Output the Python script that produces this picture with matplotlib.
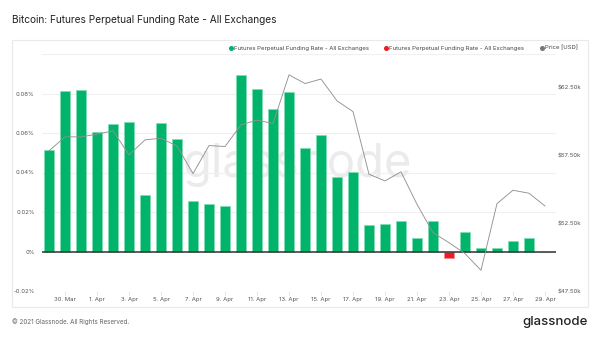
import matplotlib
matplotlib.use("Agg")
import matplotlib.pyplot as plt
import matplotlib.dates as mdates
from matplotlib.lines import Line2D
import numpy as np
import pandas as pd

plt.rcParams['font.family'] = ['Inter', 'DejaVu Sans']

# ---------------- data ----------------
dates = pd.date_range("2021-03-29", "2021-04-29", freq="D")
funding = [0.0514, 0.0813, 0.0818, 0.0605, 0.0644, 0.0654, 0.0285, 0.0649, 0.0570,
           0.0254, 0.0239, 0.0230, 0.0892, 0.0824, 0.0720, 0.0808, 0.0524, 0.0588,
           0.0379, 0.0403, 0.0134, 0.0139, 0.0153, 0.0067, 0.0154, -0.0035, 0.0097,
           0.0016, 0.0016, 0.0052, 0.0067, np.nan]
price = [57.85, 58.88, 58.88, 59.08, 59.33, 57.55, 58.66, 58.78, 58.20, 56.17,
         58.24, 58.17, 59.77, 60.12, 59.87, 63.46, 62.82, 63.15, 61.54, 60.75,
         56.12, 55.63, 56.30, 53.90, 51.81, 51.07, 50.26, 49.03, 53.95, 54.94,
         54.72, 53.78]
left_ticks = [-0.02, 0.0, 0.02, 0.04, 0.06, 0.08]
left_tick_labels = ["-0.02%", "0%", "0.02%", "0.04%", "0.06%", "0.08%"]
right_ticks = [47.5, 52.5, 57.5, 62.5]
right_tick_labels = ["$47.50k", "$52.50k", "$57.50k", "$62.50k"]
x_tick_dates = pd.date_range("2021-03-30", "2021-04-29", freq="2D")
x_tick_labels = ["30. Mar", "1. Apr", "3. Apr", "5. Apr", "7. Apr", "9. Apr", "11. Apr",
                 "13. Apr", "15. Apr", "17. Apr", "19. Apr", "21. Apr", "23. Apr",
                 "25. Apr", "27. Apr", "29. Apr"]
series_name = "Futures Perpetual Funding Rate - All Exchanges"
price_name = "Price [USD]"
title = "Bitcoin: Futures Perpetual Funding Rate - All Exchanges"

# ---------------- style ----------------
GREEN = "#00b46c"
GREEN_EDGE = "#7fdcb2"
RED = "#ee1b24"
GREY_LINE = "#929292"
TXT = "#555555"
GRID = "#f0f0f0"

fig = plt.figure(figsize=(6, 3.37), dpi=100)
fig.patch.set_facecolor("white")

# outer frame
frame = plt.Rectangle((12 / 600, 1 - 307 / 337), 576 / 600, (307 - 40) / 337,
                      transform=fig.transFigure, fill=False, edgecolor="#e9e9e9",
                      linewidth=0.8, zorder=0)
fig.patches.append(frame)

ax = fig.add_axes([41.7 / 600, 1 - 291 / 337, (555.7 - 41.7) / 600, (291 - 54) / 337])
ax.set_facecolor("none")

xnum = mdates.date2num(dates)
vals = np.array(funding, dtype=float)
colors = [GREEN if (v >= 0 or np.isnan(v)) else RED for v in vals]
edges = [GREEN_EDGE if (v >= 0 or np.isnan(v)) else "#f58a8e" for v in vals]
ax.bar(xnum, np.nan_to_num(vals), width=0.62, color=colors, edgecolor=edges,
       linewidth=0.5, zorder=3)
ax.axhline(0, color="#333333", linewidth=1.1, zorder=4)

ax.set_ylim(-0.02, 0.1)
ax.set_yticks(left_ticks + [0.1])
ax.set_yticklabels(left_tick_labels + [""])
ax.grid(axis="y", color=GRID, linewidth=0.8, zorder=0)
ax.set_xlim(xnum[0] - 0.46, xnum[-1] + 0.67)
ax.set_xticks(mdates.date2num(x_tick_dates))
ax.set_xticklabels(x_tick_labels)
ax.tick_params(axis="x", length=3, color="#dddddd", width=0.6, pad=1.5,
               labelsize=4.3, labelcolor=TXT)
ax.tick_params(axis="y", length=0, pad=5, labelsize=4.3, labelcolor=TXT)
for s in ax.spines.values():
    s.set_visible(False)

# watermark
ax.text(0.497, 0.53, "glassnode", transform=ax.transAxes, ha="center", va="center",
        fontsize=34, color="#ebebeb", zorder=1)

ax2 = ax.twinx()
ax2.plot(xnum, price, color=GREY_LINE, linewidth=0.65, zorder=5)
ax2.set_ylim(47.5, 65)
ax2.set_yticks(right_ticks)
ax2.set_yticklabels(right_tick_labels)
ax2.tick_params(axis="y", length=0, pad=1.5, labelsize=4.3, labelcolor=TXT)
for s in ax2.spines.values():
    s.set_visible(False)

# title
fig.text(12 / 600, 1 - 20 / 337, title, ha="left", va="center", fontsize=7.3,
         color="#222222")

# legend
handles = [Line2D([], [], marker="o", linestyle="none", color=GREEN, markersize=2.6),
           Line2D([], [], marker="o", linestyle="none", color=RED, markersize=2.6),
           Line2D([], [], marker="o", linestyle="none", color="#777777", markersize=2.6)]
leg = fig.legend(handles, [series_name, series_name, price_name], ncol=3,
                 loc="center right", bbox_to_anchor=(578 / 600, 1 - 48 / 337),
                 frameon=False, fontsize=4.3, handlelength=0.6, handletextpad=0.25,
                 columnspacing=2.6, borderpad=0, borderaxespad=0)
for t in leg.get_texts():
    t.set_color("#444444")

# footer
fig.text(12 / 600, 1 - 322 / 337, "© 2021 Glassnode. All Rights Reserved.", ha="left",
         va="center", fontsize=4.5, color="#666666")
fig.text(588 / 600, 1 - 322 / 337, "glassnode", ha="right", va="center", fontsize=9.5,
         color="#222222", fontweight="medium")

fig.savefig("out.png", dpi=100, facecolor="white")
